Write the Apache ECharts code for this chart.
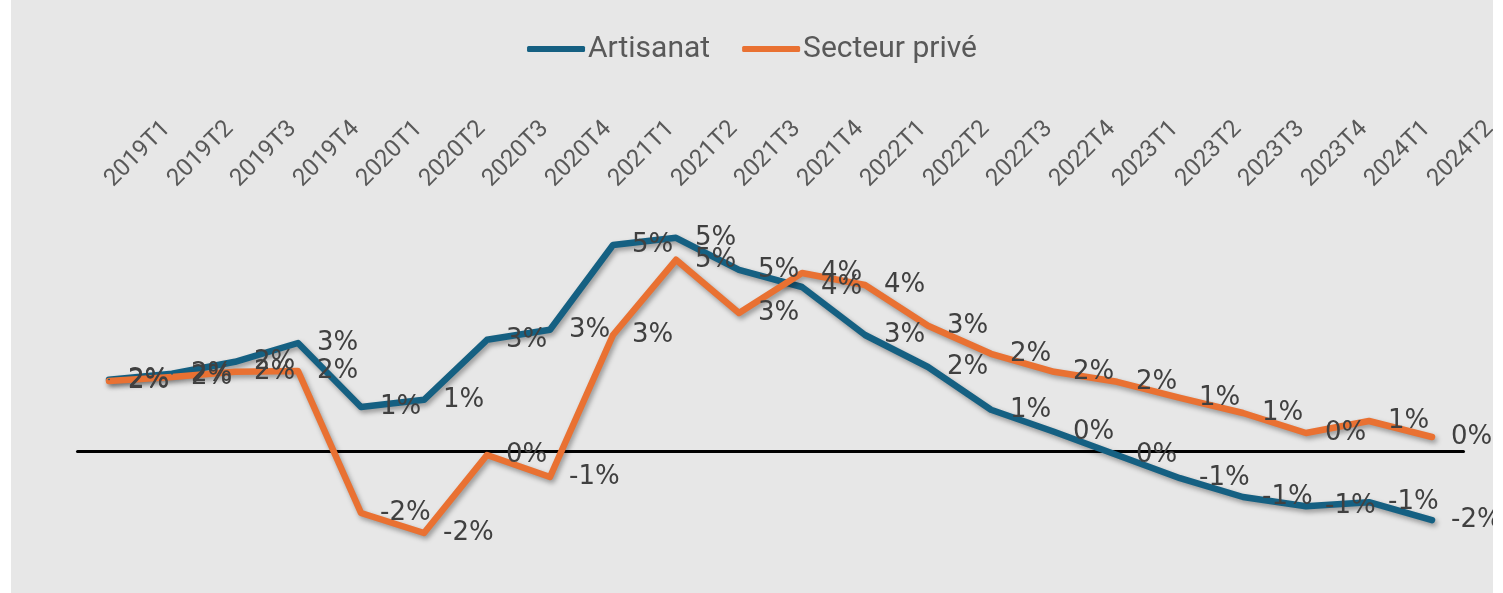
<!DOCTYPE html>
<html style="height: 100%">

<head>
  <meta charset="utf-8">
  <script type="text/javascript" src="https://cdn.jsdelivr.net/npm/echarts/dist/echarts.min.js"></script>
  <style>
    body { margin: 0; background: #ffffff; }
    #container { position: absolute; left: 11px; top: 0; width: 1482px; height: 593px; }
  </style>
</head>

<body>
  <div id="container"></div>
  <script type="text/javascript">
    var quarters = ["2019T1", "2019T2", "2019T3", "2019T4", "2020T1", "2020T2", "2020T3", "2020T4",
      "2021T1", "2021T2", "2021T3", "2021T4", "2022T1", "2022T2", "2022T3", "2022T4",
      "2023T1", "2023T2", "2023T3", "2023T4", "2024T1", "2024T2"];
    // glissement annuel, en %
    var artisanat = [1.78, 1.93, 2.23, 2.7, 1.1, 1.28, 2.78, 3.03, 5.15, 5.33, 4.53, 4.1,
      2.9, 2.1, 1.03, 0.48, -0.1, -0.68, -1.15, -1.38, -1.28, -1.73];
    var secteurPrive = [1.75, 1.85, 1.98, 2.0, -1.55, -2.05, -0.1, -0.65, 2.9, 4.78, 3.45, 4.45,
      4.15, 3.13, 2.43, 1.98, 1.73, 1.33, 0.95, 0.45, 0.75, 0.35];

    var dom = document.getElementById("container");
    var myChart = echarts.init(dom);
    var _colors = ['#156082', '#E97132'];

    function makeSeries(name, data, color) {
      return {
        name: name,
        type: 'line',
        data: data,
        symbol: 'circle',
        symbolSize: 2,
        itemStyle: { color: color },
        lineStyle: {
          color: color,
          width: 6.5,
          cap: 'round',
          join: 'round',
          shadowColor: 'rgba(0, 0, 0, 0.35)',
          shadowBlur: 5,
          shadowOffsetX: 2,
          shadowOffsetY: 3
        },
        label: {
          show: true,
          position: 'right',
          distance: 18,
          color: '#404040',
          fontSize: 26,
          fontFamily: 'DejaVu Sans',
          formatter: function (p) {
            return Math.round(p.value) + '%';
          }
        },
        emphasis: { disabled: true }
      };
    }

    var option = {
      backgroundColor: '#e7e7e7',
      animation: false,
      legend: {
        top: 29,
        left: 'center',
        icon: 'roundRect',
        itemWidth: 58,
        itemHeight: 6,
        itemGap: 32,
        textStyle: { color: '#595959', fontSize: 30, fontFamily: 'Roboto', padding: [0, 0, 0, -2] },
        data: ['Artisanat', 'Secteur privé']
      },
      grid: { left: 66.5, right: 29.5, top: 211, bottom: 22, outerBoundsMode: 'none' },
      xAxis: [{
        type: 'category',
        data: quarters,
        position: 'bottom',
        axisLine: { onZero: true, lineStyle: { color: '#000000', width: 3 } },
        axisTick: { show: false },
        axisLabel: { show: false },
        splitLine: { show: false }
      }, {
        type: 'category',
        data: quarters,
        position: 'top',
        axisLine: { show: false },
        axisTick: { show: false },
        axisLabel: {
          rotate: -45,
          margin: 28,
          interval: 0,
          color: '#595959',
          fontSize: 24,
          fontFamily: 'Roboto'
        }
      }],
      yAxis: {
        type: 'value',
        min: -3,
        max: 6,
        show: false,
        splitLine: { show: false }
      },
      series: [
        makeSeries('Artisanat', artisanat, _colors[0]),
        makeSeries('Secteur privé', secteurPrive, _colors[1])
      ]
    };
    myChart.setOption(option);
  </script>
</body>

</html>
